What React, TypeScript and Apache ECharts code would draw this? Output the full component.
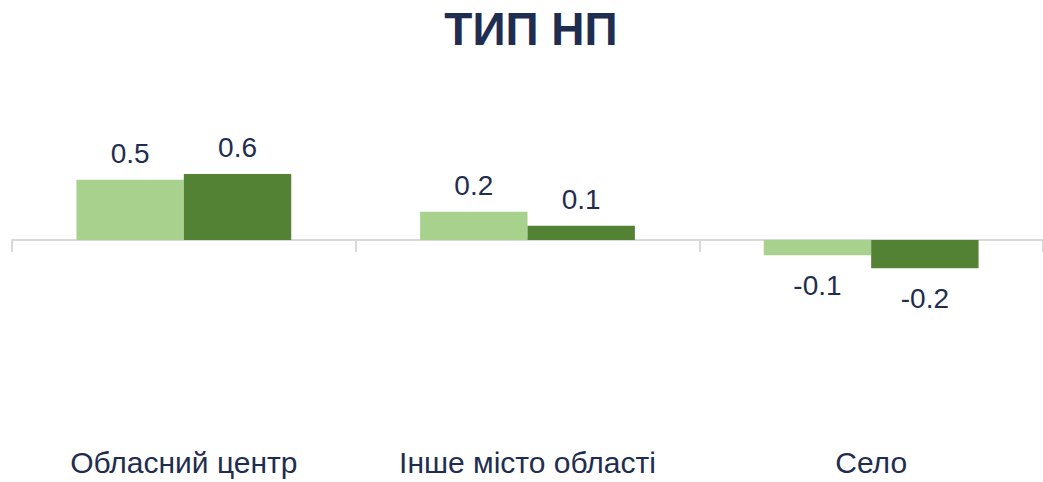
import React, { useEffect, useRef } from "react";
import * as echarts from "echarts";

const title = "ТИП НП";
const categories = ["Обласний центр", "Інше місто області", "Село"];
const seriesA = [0.51, 0.24, -0.13];
const seriesB = [0.56, 0.12, -0.24];
const colorA = "#A9D18E";
const colorB = "#548235";
const textColor = "#1F2D50";
const font = '"Liberation Sans", Arial, sans-serif';

function toData(values: number[]) {
  return values.map((v) => ({
    value: v,
    label: { position: v < 0 ? "bottom" : "top", distance: v < 0 ? 16 : 12 },
  }));
}

export default function App() {
  const ref = useRef<HTMLDivElement>(null);
  useEffect(() => {
    if (!ref.current) return;
    const chart = echarts.init(ref.current, null, { renderer: "svg" });
    const labelCfg = {
      show: true,
      fontSize: 28,
      fontFamily: font,
      color: textColor,
      formatter: (p: any) => Number(p.value).toFixed(1),
    };
    chart.setOption({
      animation: false,
      backgroundColor: "#ffffff",
      title: {
        text: title,
        left: 526,
        textAlign: "center",
        top: 1,
        textStyle: {
          fontSize: 46,
          fontWeight: "bold",
          fontFamily: font,
          color: textColor,
        },
      },
      grid: { left: 12, right: -6, top: 122, bottom: 65 },
      xAxis: [
        {
          type: "category",
          data: categories,
          axisLine: { onZero: true, lineStyle: { color: "#D9D9D9", width: 2 } },
          axisTick: { show: true, length: 12, lineStyle: { color: "#D9D9D9", width: 2 } },
          axisLabel: { show: false },
        },
        {
          type: "category",
          data: categories,
          position: "bottom",
          axisLine: { show: false, onZero: false },
          axisTick: { show: false },
          axisLabel: {
            show: true,
            margin: 30,
            fontSize: 30,
            fontFamily: font,
            color: textColor,
          },
        },
      ],
      yAxis: {
        type: "value",
        min: -1.5,
        max: 1,
        show: false,
        splitLine: { show: false },
      },
      series: [
        {
          type: "bar",
          xAxisIndex: 0,
          data: toData(seriesA),
          itemStyle: { color: colorA },
          barGap: "0%",
          barCategoryGap: "37.5%",
          label: labelCfg,
        },
        {
          type: "bar",
          xAxisIndex: 0,
          data: toData(seriesB),
          itemStyle: { color: colorB },
          barGap: "0%",
          barCategoryGap: "37.5%",
          label: labelCfg,
        },
      ],
    });
    return () => chart.dispose();
  }, []);
  return (
    <div
      ref={ref}
      style={{ position: "fixed", left: 0, top: 0, width: 1043, height: 482 }}
    />
  );
}
